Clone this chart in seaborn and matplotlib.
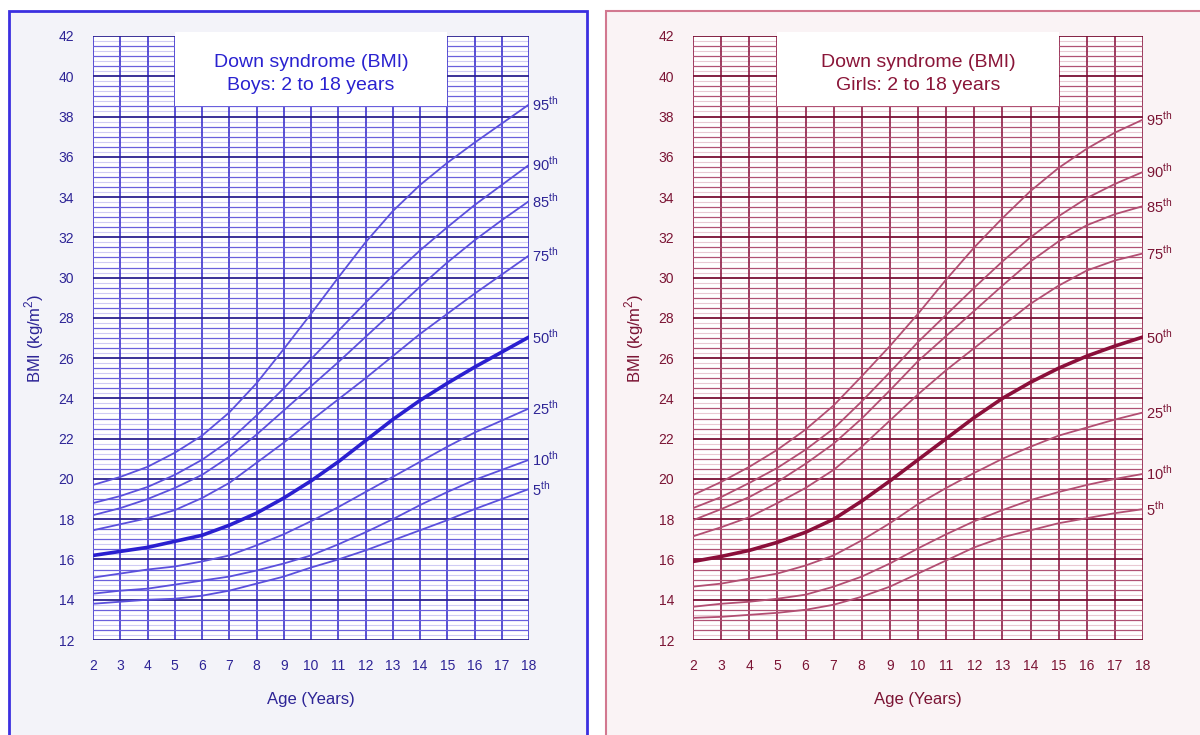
import numpy as np
import pandas as pd
import matplotlib
matplotlib.use('Agg')
import matplotlib.pyplot as plt
import seaborn as sns
from matplotlib.patches import Rectangle

ages = list(range(2, 19))
percentiles = ['95', '90', '85', '75', '50', '25', '10', '5']

boys_95 = [19.7, 20.1, 20.6, 21.3, 22.15, 23.3, 24.75, 26.45, 28.2, 30.0, 31.75, 33.3, 34.6, 35.7, 36.7, 37.65, 38.6]
boys_90 = [18.8, 19.15, 19.6, 20.2, 20.95, 21.9, 23.15, 24.5, 25.95, 27.35, 28.75, 30.1, 31.35, 32.5, 33.6, 34.6, 35.6]
boys_85 = [18.2, 18.55, 19.0, 19.55, 20.2, 21.1, 22.2, 23.4, 24.6, 25.8, 27.05, 28.3, 29.55, 30.75, 31.85, 32.85, 33.8]
boys_75 = [17.45, 17.75, 18.05, 18.45, 19.05, 19.8, 20.8, 21.8, 22.9, 23.95, 25.0, 26.1, 27.2, 28.2, 29.2, 30.15, 31.1]
boys_50 = [16.2, 16.4, 16.6, 16.9, 17.2, 17.7, 18.3, 19.05, 19.9, 20.85, 21.9, 22.95, 23.9, 24.75, 25.55, 26.3, 27.05]
boys_25 = [15.1, 15.3, 15.5, 15.65, 15.9, 16.2, 16.7, 17.25, 17.9, 18.6, 19.35, 20.1, 20.85, 21.6, 22.3, 22.9, 23.5]
boys_10 = [14.3, 14.45, 14.55, 14.75, 14.95, 15.15, 15.45, 15.8, 16.2, 16.75, 17.35, 18.0, 18.7, 19.35, 19.95, 20.45, 20.95]
boys_5 = [13.8, 13.9, 14.0, 14.05, 14.2, 14.45, 14.8, 15.15, 15.6, 16.0, 16.45, 16.95, 17.45, 17.95, 18.5, 19.0, 19.5]

girls_95 = [19.2, 19.85, 20.6, 21.45, 22.45, 23.65, 25.1, 26.6, 28.2, 29.9, 31.5, 32.95, 34.3, 35.45, 36.4, 37.2, 37.85]
girls_90 = [18.55, 19.1, 19.8, 20.55, 21.45, 22.5, 23.85, 25.3, 26.8, 28.15, 29.5, 30.8, 32.0, 33.05, 33.95, 34.65, 35.25]
girls_85 = [17.95, 18.5, 19.1, 19.85, 20.75, 21.75, 23.0, 24.4, 25.85, 27.1, 28.35, 29.6, 30.8, 31.8, 32.6, 33.15, 33.55]
girls_75 = [17.15, 17.6, 18.1, 18.8, 19.55, 20.45, 21.6, 22.9, 24.2, 25.4, 26.5, 27.6, 28.7, 29.6, 30.35, 30.85, 31.2]
girls_50 = [15.9, 16.15, 16.45, 16.85, 17.35, 18.0, 18.9, 19.9, 20.95, 22.0, 23.05, 24.0, 24.8, 25.5, 26.1, 26.6, 27.05]
girls_25 = [14.65, 14.8, 15.05, 15.3, 15.7, 16.2, 16.95, 17.8, 18.75, 19.55, 20.3, 21.0, 21.6, 22.15, 22.55, 22.95, 23.3]
girls_10 = [13.65, 13.8, 13.9, 14.05, 14.25, 14.65, 15.15, 15.8, 16.55, 17.25, 17.9, 18.45, 18.95, 19.35, 19.7, 20.0, 20.25]
girls_5 = [13.1, 13.15, 13.25, 13.35, 13.5, 13.75, 14.15, 14.65, 15.3, 15.95, 16.6, 17.1, 17.45, 17.8, 18.05, 18.3, 18.5]

boys = [boys_95, boys_90, boys_85, boys_75, boys_50, boys_25, boys_10, boys_5]
girls = [girls_95, girls_90, girls_85, girls_75, girls_50, girls_25, girls_10, girls_5]

sns.set_style('white')
plt.rcParams['font.family'] = ['Liberation Sans', 'DejaVu Sans']
plt.rcParams['mathtext.fontset'] = 'custom'
plt.rcParams['mathtext.rm'] = 'Liberation Sans'

fig = plt.figure(figsize=(12, 7.35), dpi=100)
W, H = 1200, 735

styles = {
    'boys': dict(bg='#f3f3f9', edge='#3b2fe0', vline='#3d32cc', major='#2c2290', minor='#6a60dc',
                 light='#cfcbf4', curve='#5b50dc', mid='#2a1fd0', text='#2d2496', title='#2a22d0'),
    'girls': dict(bg='#faf3f5', edge='#d27890', vline='#8e1c45', major='#7a1035', minor='#b05274',
                  light='#e9c9d3', curve='#b24e72', mid='#8b0f3a', text='#7b1434', title='#8a1538'),
}

# panel frames
fig.add_artist(Rectangle((9 / W, -0.02), 578 / W, 1.0 - 11 / H + 0.02, transform=fig.transFigure,
                         facecolor=styles['boys']['bg'], edgecolor=styles['boys']['edge'], lw=2, zorder=-1))
fig.add_artist(Rectangle((606 / W, -0.02), 0.6, 1.0 - 11 / H + 0.02, transform=fig.transFigure,
                         facecolor=styles['girls']['bg'], edgecolor=styles['girls']['edge'], lw=1.5, zorder=-1))

panels = [
    ('boys', boys, 'Boys: 2 to 18 years', [93 / W, 95 / H, 436 / W, 604 / H]),
    ('girls', girls, 'Girls: 2 to 18 years', [693 / W, 95 / H, 450 / W, 604 / H]),
]

for key, series, subtitle, rect in panels:
    s = styles[key]
    ax = fig.add_axes(rect)
    ax.set_facecolor('white')
    ax.set_xlim(2, 18)
    ax.set_ylim(12, 42)
    ax.set_axisbelow(True)

    ax.set_xticks(ages)
    ax.set_yticks(range(12, 43, 2))
    ax.set_yticks(np.arange(12, 42.01, 0.5), minor=True)
    ax.grid(axis='x', which='major', color=s['vline'], lw=1.2)
    ax.grid(axis='y', which='major', color=s['major'], lw=1.3)
    ax.grid(axis='y', which='minor', color=s['minor'], lw=0.9)
    for yy in np.arange(12.25, 42, 0.5):
        ax.axhline(yy, color=s['light'], lw=0.8, zorder=0.4)

    ax.tick_params(axis='x', which='major', direction='out', length=5, width=1.2, color=s['vline'],
                   labelsize=10, labelcolor=s['text'], pad=9)
    ax.tick_params(axis='y', which='both', direction='out', length=4.5, width=1.0, color=s['major'],
                   labelsize=10, labelcolor=s['text'], pad=9)
    for sp in ax.spines.values():
        sp.set_visible(False)

    for name, vals in zip(percentiles, series):
        thick = name == '50'
        sns.lineplot(x=ages, y=vals, ax=ax, color=s['mid'] if thick else s['curve'],
                     lw=2.6 if thick else 1.3, zorder=2)
        ax.annotate(name + r'$^{\rm th}$', xy=(18, vals[-1]), xytext=(2, 0), textcoords='offset points',
                    ha='left', va='center', fontsize=10.5, color=s['text'], annotation_clip=False)

    # title box
    ax.add_patch(Rectangle((5, 38.5), 10, 3.7, facecolor='white', edgecolor='none', zorder=3, clip_on=False))
    ax.text(10, 40.7, 'Down syndrome (BMI)', ha='center', va='center', fontsize=14, color=s['title'], zorder=4)
    ax.text(10, 39.55, subtitle, ha='center', va='center', fontsize=14, color=s['title'], zorder=4)

    ax.set_xlabel('Age (Years)', fontsize=12, color=s['text'])
    ax.set_ylabel('BMI (kg/m$^2$)', fontsize=12, color=s['text'])
    ax.xaxis.set_label_coords(0.5, -52 / 604)
    ax.yaxis.set_label_coords(-47 / (rect[2] * W), 0.5)

fig.savefig('out.png', dpi=100)
